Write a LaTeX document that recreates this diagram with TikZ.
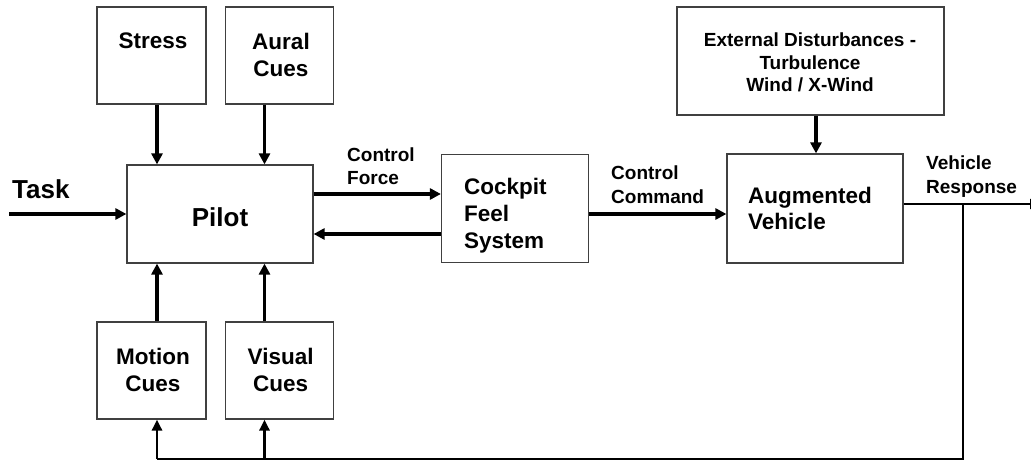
\documentclass[tikz,border=0pt]{standalone}
\usepackage{fontspec}
\setmainfont{Liberation Sans}
\usetikzlibrary{arrows.meta}
\begin{document}
\begin{tikzpicture}[x=1pt,y=-1pt,
  box/.style={draw=black!75, line width=1.2pt, inner sep=0pt},
  cue/.style={inner sep=0pt, font=\bfseries\fontsize{22.5}{27.5}\selectfont},
  lab/.style={inner sep=0pt, font=\bfseries\fontsize{19}{23.5}\selectfont, align=left, anchor=north west},
  big/.style={inner sep=0pt, font=\bfseries\fontsize{26}{30}\selectfont},
  arr/.style={line width=3.2pt, -{Triangle[width=11pt,length=11pt]}},
  fb/.style={line width=2pt},
  fbarr/.style={line width=2.8pt, -{Triangle[width=10pt,length=11pt]}}]
\useasboundingbox (0,0) rectangle (1031,462);
\fill[white] (0,0) rectangle (1031,462);

% boxes
\node[box, minimum width=109pt, minimum height=97pt] (stress) at (151.5,55.5) {};
\node[box, minimum width=108pt, minimum height=97pt] (aural) at (279.5,55.5) {};
\node[box, minimum width=186pt, minimum height=98pt] (pilot) at (220,214) {};
\node[box, minimum width=109pt, minimum height=97pt] (motion) at (151.5,370.5) {};
\node[box, minimum width=108pt, minimum height=97pt] (visual) at (279.5,370.5) {};
\node[box, minimum width=147pt, minimum height=108.5pt] (cockpit) at (515,208.5) {};
\node[box, minimum width=267pt, minimum height=108pt] (ext) at (810.5,61) {};
\node[box, minimum width=176pt, minimum height=109pt] (aug) at (815,208.5) {};

% texts
\node[cue, anchor=north] (stresst) at (153,32.6) {Stress};
\node[cue, anchor=north, align=center] (auralt) at (281,32.6) {Aural\\Cues};
\node[cue, anchor=north, align=center] (motiont) at (153,347.6) {Motion\\Cues};
\node[cue, anchor=north, align=center] (visualt) at (280.6,347.6) {Visual\\Cues};
\node[cue, anchor=north west, align=left, font=\bfseries\fontsize{22.5}{27}\selectfont] (cockpitt) at (464,177.6) {Cockpit\\Feel\\System};
\node[cue, anchor=north west, align=left, font=\bfseries\fontsize{22.5}{26}\selectfont] (augt) at (748,186.6) {Augmented\\Vehicle};
\node[inner sep=0pt, anchor=north, align=center, font=\bfseries\fontsize{19}{22.5}\selectfont] (extt) at (810,32.8) {External Disturbances -\\Turbulence\\Wind / X-Wind};
\node[lab, font=\bfseries\fontsize{19}{23}\selectfont] (cft) at (347,148) {Control\\Force};
\node[lab, font=\bfseries\fontsize{19}{24}\selectfont] (cct) at (611,166) {Control\\Command};
\node[lab] (vrt) at (926,156) {Vehicle\\Response};
\node[big, anchor=base west] (taskt) at (12,199) {Task};
\node[big, anchor=base] (pilott) at (220,227) {Pilot};

% helper coordinates
\coordinate (xa) at (157,0);
\coordinate (xb) at (264.5,0);
\coordinate (xe) at (816,0);
\coordinate (xf) at (963,0);
\coordinate (xo) at (1040,0);
\coordinate (xt) at (9,0);
\coordinate (yt) at (0,214);
\coordinate (ycf) at (0,194);
\coordinate (ybk) at (0,234);
\coordinate (ycc) at (0,214);
\coordinate (ye) at (0,204);
\coordinate (yb) at (0,459);

% connectors
\draw[arr] (stress.south -| xa) -- (pilot.north -| xa);
\draw[arr] (aural.south -| xb) -- (pilot.north -| xb);
\draw[arr] (motion.north -| xa) -- (pilot.south -| xa);
\draw[arr] (visual.north -| xb) -- (pilot.south -| xb);
\draw[arr] (xt |- yt) -- (pilot.west |- yt);
\draw[arr] (pilot.east |- ycf) -- (cockpit.west |- ycf);
\draw[arr] (cockpit.west |- ybk) -- (pilot.east |- ybk);
\draw[arr] (cockpit.east |- ycc) -- (aug.west |- ycc);
\draw[arr] (ext.south -| xe) -- (aug.north -| xe);
\draw[fb, -{Triangle[width=10pt,length=10pt]}] (aug.east |- ye) -- (xo |- ye);
\draw[fb] (xf |- ye) -- (xf |- yb) -- (xa |- yb);
\draw[fbarr] (xa |- yb) -- (motion.south -| xa);
\draw[fbarr] (xb |- yb) -- (visual.south -| xb);
\end{tikzpicture}
\end{document}
